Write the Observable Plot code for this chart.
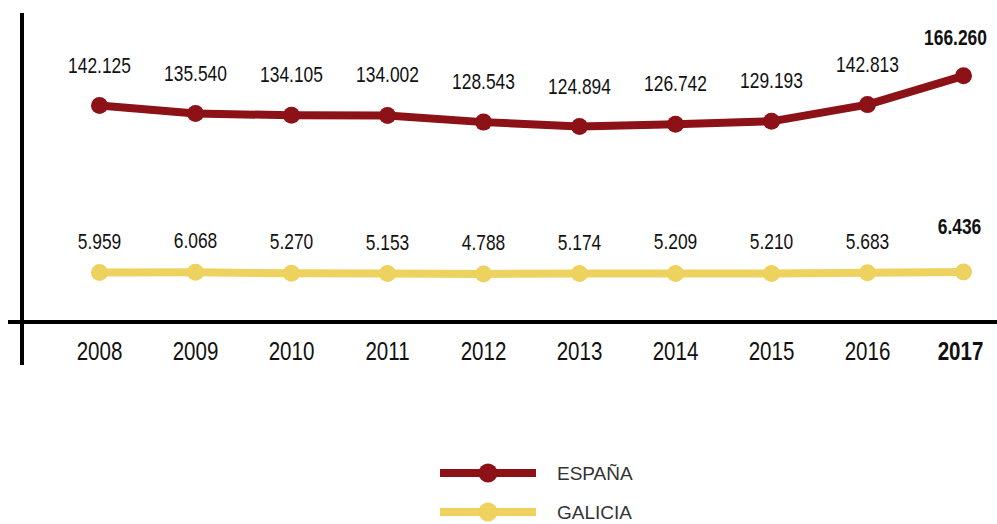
<!DOCTYPE html>
<html>
<head>
<meta charset="utf-8">
<script src="https://cdn.jsdelivr.net/npm/d3@7"></script>
<script src="https://cdn.jsdelivr.net/npm/@observablehq/plot@0.6"></script>
<style>
  html, body { margin: 0; padding: 0; background: #fff; }
  #chart svg { display: block; }
  #legend svg { display: block; }
</style>
</head>
<body>
<div id="chart"></div>
<div id="legend"></div>
<script>
const years = ["2008","2009","2010","2011","2012","2013","2014","2015","2016","2017"];
const espana = [142125, 135540, 134105, 134002, 128543, 124894, 126742, 129193, 142813, 166260];
const galicia = [5959, 6068, 5270, 5153, 4788, 5174, 5209, 5210, 5683, 6436];
const seriesNames = ["ESPAÑA", "GALICIA"];
const seriesColors = ["#8c1217", "#eed25f"];
const highlightYear = "2017";

const FONT = "'Liberation Sans', Arial, sans-serif";
const es = d3.formatLocale({decimal: ",", thousands: ".", grouping: [3], currency: ["", "€"]});
const fmt = es.format(",d");

const rows = [];
years.forEach((yr, i) => {
  rows.push({year: yr, value: espana[i], series: seriesNames[0]});
  rows.push({year: yr, value: galicia[i], series: seriesNames[1]});
});
const esp = rows.filter(d => d.series === seriesNames[0]);
const gal = rows.filter(d => d.series === seriesNames[1]);
const isHi = d => d.year === highlightYear;
const notHi = d => d.year !== highlightYear;

// axis lines (decoration, drawn from frame dimensions)
function axesLines(index, scales, values, dim) {
  const g = d3.create("svg:g");
  const left = dim.marginLeft, bottom = dim.height - dim.marginBottom;
  g.append("line").attr("x1", left).attr("x2", left).attr("y1", 13).attr("y2", bottom + 43)
    .attr("stroke", "#000").attr("stroke-width", 4);
  g.append("line").attr("x1", 8).attr("x2", dim.width).attr("y1", bottom).attr("y2", bottom)
    .attr("stroke", "#000").attr("stroke-width", 4);
  return g.node();
}

const labelCommon = {x: "year", y: "value", text: d => fmt(d.value), fontSize: 22, fill: "#111"};

const chart = Plot.plot({
  width: 997,
  height: 445,
  marginLeft: 22,
  marginRight: 0,
  marginTop: 0,
  marginBottom: 123,
  style: {fontFamily: FONT, background: "#fff", overflow: "visible"},
  x: {type: "point", domain: years, range: [97, 965], padding: 0, axis: null},
  y: {domain: [0, 180000], range: [279.3, 58.5], axis: null},
  color: {domain: seriesNames, range: seriesColors},
  marks: [
    axesLines,
    Plot.line(rows, {x: "year", y: "value", z: "series", stroke: "series", strokeWidth: 8, strokeLinecap: "round", strokeLinejoin: "round"}),
    Plot.dot(esp, {x: "year", y: "value", fill: "series", r: 8.5}),
    Plot.dot(gal, {x: "year", y: "value", fill: "series", r: 8.5}),
    Plot.text(esp, {...labelCommon, filter: notHi, dy: -40}),
    Plot.text(esp, {...labelCommon, filter: isHi, dy: -38, dx: -8, fontWeight: "bold"}),
    Plot.text(gal, {...labelCommon, filter: notHi, dy: -31}),
    Plot.text(gal, {...labelCommon, filter: isHi, dy: -45, dx: -4, fontWeight: "bold"}),
    Plot.text(years, {x: d => d, text: d => d, filter: d => d !== highlightYear, frameAnchor: "bottom", dy: 37, fontSize: 26, fill: "#111"}),
    Plot.text(years, {x: d => d, text: d => d, filter: d => d === highlightYear, frameAnchor: "bottom", dy: 37, dx: -3, fontSize: 26, fill: "#111", fontWeight: "bold"})
  ]
});
document.getElementById("chart").appendChild(chart);

// condense chart text horizontally to mimic a narrow typeface
d3.select(chart).selectAll("text").each(function() {
  const len = this.getComputedTextLength();
  if (len > 0) {
    this.setAttribute("textLength", (len * 0.79).toFixed(2));
    this.setAttribute("lengthAdjust", "spacingAndGlyphs");
  }
});

// legend
const lg = d3.select("#legend").append("svg").attr("width", 997).attr("height", 79);
seriesNames.forEach((name, i) => {
  const cy = 28 + i * 39;
  lg.append("line").attr("x1", 440).attr("x2", 536).attr("y1", cy).attr("y2", cy)
    .attr("stroke", seriesColors[i]).attr("stroke-width", 8);
  lg.append("circle").attr("cx", 488).attr("cy", cy).attr("r", 9.5).attr("fill", seriesColors[i]);
  lg.append("text").attr("x", 557).attr("y", cy).attr("dy", "0.36em")
    .attr("font-family", FONT).attr("font-size", 19).attr("fill", "#333").text(name);
});
</script>
</body>
</html>
